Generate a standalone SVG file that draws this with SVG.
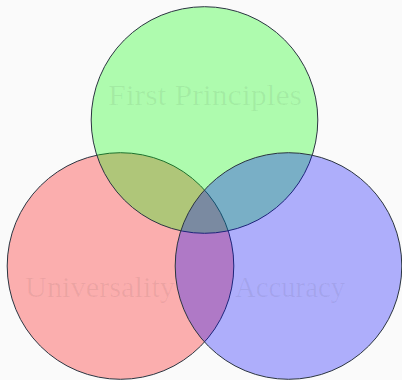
<svg xmlns="http://www.w3.org/2000/svg" width="402" height="380" viewBox="0 0 402 380">
<style>
.c{stroke:#2a3440;stroke-width:1;fill-opacity:0.3}
.t{font-family:"Liberation Serif","DejaVu Serif",serif;font-size:29px;fill:#000;fill-opacity:0.06}
</style>
<rect x="0" y="0" width="402" height="380" fill="#fafafa"/>
<g id="universality"><circle class="c" cx="120.5" cy="266" r="113.3" fill="#ff0000"/></g>
<g id="first-principles"><circle class="c" cx="204.5" cy="120" r="113.3" fill="#00ff00"/></g>
<g id="accuracy"><circle class="c" cx="288.5" cy="266" r="113.3" fill="#0000ff"/></g>
<g id="labels">
<text class="t" x="108" y="104.7" textLength="194" lengthAdjust="spacingAndGlyphs">First Principles</text>
<text class="t" x="25" y="296.7" textLength="150" lengthAdjust="spacingAndGlyphs">Universality</text>
<text class="t" x="235" y="296.7" textLength="110" lengthAdjust="spacingAndGlyphs">Accuracy</text>
</g>
<g id="connectors"/>
</svg>
